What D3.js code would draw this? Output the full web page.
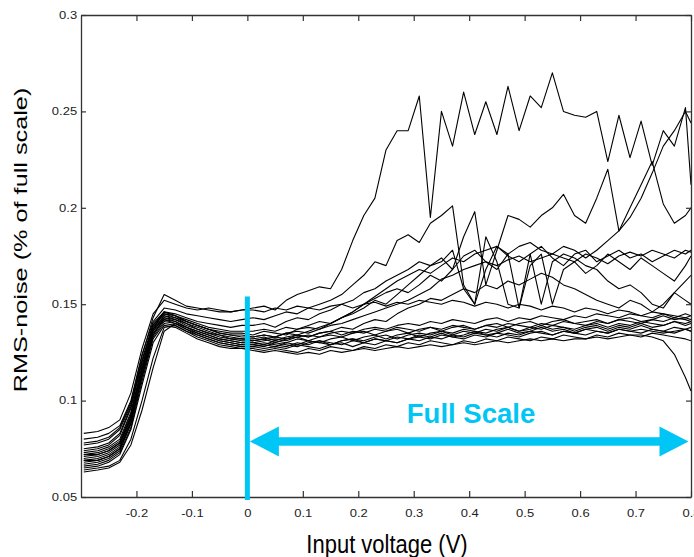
<!DOCTYPE html>
<html lang="en">
<head>
<meta charset="UTF-8">
<title>RMS noise vs input voltage</title>
<style>
  body { margin: 0; background: #fff; }
  svg { display: block; }
</style>
</head>
<body>
<svg id="chart"></svg>
<script src="https://d3js.org/d3.v7.min.js"></script>
<script>
// shared x grid for all traces (V)
const xs = [-0.295,-0.27,-0.25,-0.23,-0.21,-0.19,-0.17,-0.15,-0.13,-0.11,-0.09,-0.07,-0.05,-0.03,-0.01,
  0.01,0.03,0.05,0.07,0.09,0.11,0.13,0.15,0.17,0.19,0.21,0.23,0.25,0.27,0.29,0.31,0.33,0.35,0.37,0.39,
  0.41,0.43,0.45,0.47,0.49,0.51,0.53,0.55,0.57,0.59,0.61,0.63,0.65,0.67,0.69,0.71,0.73,0.75,0.77,0.79,0.8];

// RMS noise traces (% of full scale), one value per xs entry
const s01 = [0.083,0.084,0.086,0.090,0.104,0.127,0.145,0.152,0.150,0.148,0.147,0.148,0.147,0.146,0.147,
  0.148,0.149,0.147,0.152,0.155,0.157,0.159,0.158,0.168,0.183,0.196,0.205,0.230,0.240,0.240,0.258,0.195,0.250,0.232,0.260,
  0.238,0.255,0.238,0.263,0.240,0.258,0.252,0.270,0.250,0.248,0.247,0.250,0.224,0.248,0.226,0.245,0.222,0.240,0.232,0.252,0.212];
const s02 = [0.080,0.081,0.083,0.087,0.100,0.124,0.141,0.148,0.147,0.145,0.144,0.143,0.142,0.141,0.142,
  0.143,0.142,0.144,0.146,0.145,0.148,0.150,0.152,0.155,0.160,0.165,0.172,0.170,0.183,0.186,0.182,0.192,0.196,0.201,0.160,
  0.150,0.168,0.180,0.175,0.172,0.176,0.180,0.174,0.170,0.176,0.178,0.172,0.175,0.178,0.174,0.176,0.172,0.175,0.178,0.176,0.178];
const s03 = [0.077,0.078,0.080,0.085,0.098,0.121,0.140,0.146,0.145,0.143,0.141,0.140,0.139,0.138,0.139,
  0.139,0.140,0.138,0.141,0.143,0.142,0.145,0.147,0.150,0.152,0.156,0.158,0.162,0.165,0.168,0.172,0.170,0.174,0.168,0.185,
  0.198,0.160,0.178,0.196,0.194,0.190,0.196,0.200,0.207,0.196,0.192,0.205,0.220,0.188,0.200,0.212,0.224,0.202,0.192,0.196,0.200];
const s04 = [0.075,0.076,0.078,0.083,0.097,0.120,0.139,0.146,0.144,0.142,0.140,0.138,0.137,0.136,0.136,
  0.136,0.137,0.136,0.138,0.137,0.139,0.141,0.140,0.143,0.146,0.150,0.153,0.156,0.158,0.156,0.160,0.165,0.162,0.168,0.175,
  0.178,0.172,0.168,0.176,0.180,0.182,0.178,0.176,0.180,0.178,0.174,0.178,0.183,0.188,0.195,0.205,0.218,0.232,0.240,0.250,0.244];
const s05 = [0.074,0.075,0.077,0.082,0.096,0.120,0.139,0.145,0.144,0.141,0.139,0.137,0.136,0.135,0.135,
  0.134,0.136,0.135,0.134,0.137,0.138,0.137,0.140,0.143,0.145,0.148,0.152,0.150,0.155,0.160,0.165,0.170,0.172,0.178,0.158,
  0.150,0.185,0.172,0.150,0.148,0.170,0.176,0.150,0.168,0.172,0.166,0.170,0.176,0.172,0.168,0.174,0.170,0.166,0.162,0.170,0.175];
const s06 = [0.073,0.074,0.076,0.080,0.094,0.118,0.138,0.145,0.143,0.141,0.139,0.137,0.135,0.134,0.134,
  0.133,0.134,0.133,0.135,0.136,0.135,0.137,0.139,0.140,0.142,0.144,0.146,0.148,0.150,0.152,0.155,0.158,0.163,0.165,0.168,
  0.170,0.172,0.170,0.173,0.175,0.172,0.174,0.176,0.174,0.172,0.176,0.174,0.171,0.175,0.177,0.175,0.178,0.176,0.174,0.178,0.177];
const s07 = [0.072,0.073,0.075,0.079,0.093,0.117,0.137,0.144,0.143,0.140,0.138,0.136,0.134,0.133,0.132,
  0.132,0.133,0.131,0.133,0.134,0.133,0.135,0.136,0.138,0.137,0.140,0.142,0.141,0.145,0.148,0.150,0.153,0.152,0.155,0.158,
  0.156,0.160,0.158,0.162,0.160,0.163,0.166,0.164,0.160,0.158,0.155,0.152,0.150,0.148,0.152,0.150,0.146,0.150,0.156,0.152,0.150];
const s08 = [0.071,0.072,0.074,0.078,0.092,0.116,0.136,0.144,0.142,0.140,0.137,0.135,0.134,0.132,0.132,
  0.131,0.132,0.133,0.132,0.134,0.136,0.138,0.140,0.143,0.146,0.150,0.154,0.158,0.162,0.165,0.168,0.166,0.170,0.174,0.172,
  0.176,0.178,0.180,0.176,0.148,0.176,0.150,0.172,0.176,0.174,0.170,0.168,0.162,0.158,0.160,0.156,0.150,0.148,0.156,0.162,0.165];
const s09 = [0.070,0.071,0.073,0.077,0.091,0.115,0.136,0.143,0.142,0.139,0.137,0.135,0.133,0.132,0.131,
  0.131,0.132,0.130,0.132,0.133,0.131,0.133,0.134,0.133,0.135,0.136,0.134,0.136,0.137,0.135,0.137,0.138,0.136,0.138,0.139,
  0.137,0.139,0.140,0.138,0.140,0.141,0.139,0.141,0.142,0.140,0.141,0.142,0.140,0.142,0.143,0.141,0.142,0.144,0.142,0.143,0.142];
const s10 = [0.069,0.070,0.072,0.076,0.090,0.114,0.135,0.142,0.141,0.138,0.136,0.134,0.132,0.131,0.130,
  0.130,0.129,0.131,0.130,0.132,0.131,0.130,0.132,0.133,0.131,0.133,0.134,0.132,0.134,0.135,0.133,0.135,0.136,0.134,0.136,
  0.135,0.137,0.136,0.138,0.136,0.137,0.139,0.137,0.138,0.136,0.138,0.139,0.137,0.139,0.138,0.140,0.138,0.139,0.141,0.139,0.140];
const s11 = [0.068,0.069,0.071,0.075,0.089,0.113,0.134,0.142,0.140,0.137,0.135,0.133,0.131,0.130,0.129,
  0.129,0.128,0.130,0.129,0.128,0.130,0.131,0.129,0.131,0.132,0.130,0.132,0.131,0.133,0.132,0.134,0.133,0.135,0.133,0.134,
  0.136,0.134,0.135,0.137,0.135,0.136,0.138,0.136,0.137,0.135,0.137,0.138,0.136,0.138,0.137,0.139,0.137,0.136,0.138,0.137,0.138];
const s12 = [0.067,0.068,0.070,0.074,0.088,0.112,0.133,0.141,0.140,0.137,0.134,0.132,0.130,0.129,0.128,
  0.128,0.127,0.128,0.127,0.129,0.128,0.127,0.129,0.130,0.128,0.130,0.129,0.131,0.130,0.132,0.131,0.133,0.132,0.134,0.133,
  0.135,0.134,0.133,0.135,0.134,0.136,0.135,0.134,0.136,0.135,0.137,0.136,0.135,0.137,0.136,0.137,0.136,0.135,0.136,0.137,0.136];
const s13 = [0.066,0.067,0.069,0.073,0.086,0.110,0.132,0.140,0.139,0.136,0.133,0.131,0.129,0.128,0.127,
  0.127,0.126,0.127,0.126,0.125,0.127,0.126,0.128,0.127,0.126,0.128,0.127,0.129,0.128,0.130,0.129,0.131,0.130,0.129,0.131,
  0.130,0.132,0.131,0.133,0.132,0.131,0.133,0.132,0.134,0.133,0.132,0.134,0.133,0.135,0.134,0.133,0.135,0.134,0.133,0.132,0.131];
const s14 = [0.065,0.066,0.068,0.072,0.085,0.108,0.130,0.139,0.138,0.135,0.132,0.130,0.128,0.127,0.127,
  0.126,0.125,0.126,0.125,0.124,0.125,0.124,0.126,0.125,0.126,0.127,0.126,0.127,0.128,0.127,0.128,0.129,0.128,0.129,0.130,
  0.129,0.130,0.131,0.130,0.131,0.132,0.131,0.132,0.131,0.132,0.132,0.133,0.132,0.133,0.134,0.134,0.133,0.131,0.124,0.112,0.105];
const s15 = [0.064,0.065,0.066,0.069,0.080,0.100,0.122,0.138,0.139,0.136,0.134,0.132,0.130,0.129,0.128,
  0.128,0.129,0.128,0.130,0.129,0.131,0.130,0.129,0.131,0.132,0.131,0.133,0.134,0.132,0.134,0.135,0.134,0.136,0.135,0.137,
  0.136,0.135,0.137,0.138,0.136,0.138,0.137,0.139,0.138,0.137,0.139,0.140,0.138,0.140,0.139,0.141,0.140,0.139,0.141,0.140,0.141];
const s16 = [0.063,0.064,0.065,0.068,0.077,0.095,0.117,0.136,0.140,0.138,0.136,0.134,0.132,0.131,0.130,
  0.130,0.131,0.132,0.131,0.133,0.134,0.133,0.135,0.136,0.135,0.137,0.138,0.137,0.139,0.140,0.139,0.141,0.140,0.142,0.141,
  0.140,0.142,0.143,0.141,0.143,0.142,0.144,0.143,0.142,0.144,0.143,0.145,0.144,0.143,0.145,0.144,0.143,0.145,0.144,0.143,0.144];
const s17 = [0.078,0.079,0.081,0.086,0.099,0.123,0.143,0.155,0.152,0.149,0.148,0.147,0.146,0.146,0.147,
  0.147,0.146,0.148,0.147,0.149,0.148,0.147,0.149,0.150,0.148,0.150,0.151,0.149,0.151,0.150,0.152,0.151,0.150,0.152,0.151,
  0.149,0.151,0.150,0.148,0.150,0.149,0.147,0.149,0.148,0.146,0.148,0.147,0.145,0.147,0.146,0.144,0.146,0.145,0.143,0.145,0.144];
const s18 = [0.072,0.072,0.074,0.078,0.091,0.115,0.137,0.146,0.144,0.141,0.139,0.137,0.135,0.134,0.133,
  0.133,0.134,0.133,0.135,0.134,0.133,0.135,0.136,0.134,0.136,0.135,0.137,0.136,0.138,0.137,0.136,0.138,0.137,0.139,0.138,
  0.137,0.139,0.138,0.140,0.139,0.138,0.140,0.139,0.141,0.140,0.139,0.141,0.140,0.142,0.141,0.140,0.142,0.141,0.143,0.142,0.141];
const s19 = [0.069,0.069,0.071,0.075,0.088,0.112,0.134,0.143,0.141,0.138,0.135,0.133,0.131,0.130,0.129,
  0.129,0.130,0.129,0.128,0.130,0.129,0.131,0.130,0.129,0.131,0.130,0.132,0.131,0.130,0.132,0.133,0.132,0.134,0.133,0.132,
  0.134,0.133,0.135,0.134,0.133,0.135,0.136,0.134,0.136,0.135,0.134,0.136,0.135,0.137,0.136,0.135,0.137,0.136,0.135,0.137,0.136];

const traces = [s01, s02, s03, s04, s05, s06, s07, s08, s09, s10, s11, s12, s13, s14, s15, s16, s17, s18, s19];

const xTicks = [-0.2, -0.1, 0, 0.1, 0.2, 0.3, 0.4, 0.5, 0.6, 0.7, 0.8];
const xTickLabels = ["-0.2", "-0.1", "0", "0.1", "0.2", "0.3", "0.4", "0.5", "0.6", "0.7", "0.8"];
const yTicks = [0.05, 0.1, 0.15, 0.2, 0.25, 0.3];
const yTickLabels = ["0.05", "0.1", "0.15", "0.2", "0.25", "0.3"];

// "Full Scale" annotation (in data units)
const fullScale = [0, 0.8];
const markerTop = 0.154;
const arrowLevel = 0.0788;

const width = 694, height = 557;
const marginLeft = 81, marginRight = 3, marginTop = 15, marginBottom = 60;
const cyan = "#00c6f5";

const x = d3.scaleLinear([-0.3, 0.8], [marginLeft, width - marginRight]);
const y = d3.scaleLinear([0.05, 0.3], [height - marginBottom, marginTop]);

const svg = d3.select("#chart")
  .attr("width", width)
  .attr("height", height)
  .attr("viewBox", [0, 0, width, height])
  .attr("font-family", "'Liberation Sans', Arial, sans-serif");

svg.append("defs").append("clipPath").attr("id", "plot")
  .append("rect")
  .attr("x", x.range()[0]).attr("y", y.range()[1])
  .attr("width", x.range()[1] - x.range()[0])
  .attr("height", y.range()[0] - y.range()[1]);

// traces
const line = d3.line()
  .defined((d, i) => d != null && i < xs.length)
  .x((d, i) => x(xs[i]))
  .y(d => y(d));

svg.append("g")
  .attr("clip-path", "url(#plot)")
  .attr("fill", "none")
  .attr("stroke", "#000")
  .attr("stroke-width", 1.1)
  .attr("stroke-linejoin", "round")
  .selectAll("path")
  .data(traces)
  .join("path")
  .attr("d", line);

// box + inward ticks
const axisColor = "#333";
const styleAxis = g => {
  g.select(".domain").attr("stroke", axisColor).attr("stroke-width", 1.3);
  g.selectAll(".tick line").attr("stroke", axisColor).attr("stroke-width", 1.2);
};

svg.append("g")
  .attr("transform", `translate(0,${y.range()[0]})`)
  .call(d3.axisBottom(x).tickValues(xTicks).tickSizeInner(-6).tickSizeOuter(0).tickPadding(13)
    .tickFormat((d, i) => xTickLabels[i]))
  .call(styleAxis)
  .call(g => g.selectAll("text")
    .attr("font-size", 10)
    .attr("fill", "#222")
    .attr("transform", "scale(1.3,1)"));

svg.append("g")
  .attr("transform", `translate(0,${y.range()[1]})`)
  .call(d3.axisTop(x).tickValues(xTicks).tickSizeInner(-6).tickSizeOuter(0).tickFormat(""))
  .call(styleAxis);

svg.append("g")
  .attr("transform", `translate(${x.range()[0]},0)`)
  .call(d3.axisLeft(y).tickValues(yTicks).tickSizeInner(-5).tickSizeOuter(0).tickPadding(3)
    .tickFormat((d, i) => yTickLabels[i]))
  .call(styleAxis)
  .call(g => g.selectAll("text")
    .attr("font-size", 10)
    .attr("fill", "#222")
    .attr("transform", "scale(1.3,1)"));

svg.append("g")
  .attr("transform", `translate(${x.range()[1]},0)`)
  .call(d3.axisRight(y).tickValues(yTicks).tickSizeInner(-5).tickSizeOuter(0).tickFormat(""))
  .call(styleAxis);

// axis titles
svg.append("text")
  .attr("transform", "translate(387,553) scale(1,1.14)")
  .attr("text-anchor", "middle")
  .attr("font-size", 22)
  .attr("fill", "#000")
  .text("Input voltage (V)");

svg.append("text")
  .attr("transform", "translate(27,240) scale(1,1.33) rotate(-90)")
  .attr("text-anchor", "middle")
  .attr("font-size", 19)
  .attr("fill", "#000")
  .text("RMS-noise (% of full scale)");

// Full Scale marker
const ann = svg.append("g").attr("fill", cyan);
ann.append("rect")
  .attr("x", x(fullScale[0]) - 2.5)
  .attr("y", y(markerTop))
  .attr("width", 5)
  .attr("height", y.range()[0] + 3 - y(markerTop));

const ay = y(arrowLevel);
const tipL = x(fullScale[0]) + 2.5, tipR = x(fullScale[1]) - 2.5;
const headLen = 29, headHalf = 15, shaft = 8.5;
ann.append("rect")
  .attr("x", tipL + headLen - 1)
  .attr("y", ay - shaft / 2)
  .attr("width", tipR - tipL - 2 * headLen + 2)
  .attr("height", shaft);
ann.append("path")
  .attr("d", `M${tipL},${ay}L${tipL + headLen},${ay - headHalf}L${tipL + headLen},${ay + headHalf}Z`);
ann.append("path")
  .attr("d", `M${tipR},${ay}L${tipR - headLen},${ay - headHalf}L${tipR - headLen},${ay + headHalf}Z`);

ann.append("text")
  .attr("x", 471)
  .attr("y", 423)
  .attr("text-anchor", "middle")
  .attr("font-size", 27.5)
  .attr("font-weight", "bold")
  .text("Full Scale");
</script>
</body>
</html>
